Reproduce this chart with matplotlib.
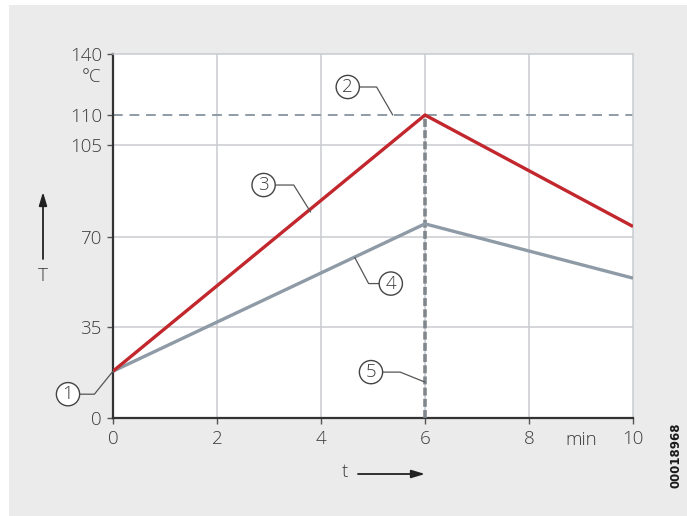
"""Temperature over time for a heating step: product temperature (3) and
core temperature (4) against the 110 degC limit (2), with the 6 min switch-off
marker (5)."""

import numpy as np
import matplotlib
matplotlib.use("Agg")
import matplotlib.pyplot as plt
from matplotlib.patches import Rectangle, FancyArrowPatch

# time axis (min) and the two temperature curves (degC)
time = [0, 6, 10]
temp_surface = [18, 110, 74]
temp_core = [18, 75, 54]

x_ticks = [0, 2, 4, 6, 8, 10]
y_ticks = [0, 35, 70, 105, 110, 140]
limit_temp = 110
switch_time = 6

# the temperature axis is drawn schematically: equal steps up to 105,
# then a stretched 105..110 band and a compressed top
Y_VALS = [0, 35, 70, 105, 110, 140]
Y_POS = [0, 91, 181, 273, 303, 364]


def fwd(v):
    return np.interp(v, Y_VALS, Y_POS)


def inv(p):
    return np.interp(p, Y_POS, Y_VALS)


# callouts: label, target (x, T), circle offset px, leader angle at target
callouts = [
    ("1", (0, 18), (-45, -23), 51),
    ("2", (5.38, 110), (-45, 28), 120),
    ("3", (3.8, 79.5), (-47, 27), 122),
    ("4", (4.65, 62), (36, -26), 118),
    ("5", (6, 13.8), (-54, 10), 158),
]

RED = "#c1272d"
GREY_LINE = "#8e9ba6"
GRID = "#c9cccf"
TEXT = "#3c3c3c"
FONT = "Open Sans"
FS = 13.5

fig = plt.figure(figsize=(6.87, 5.16), dpi=100, facecolor="white")
fig.patches.append(Rectangle((9 / 687, 0), 1, 511 / 516, transform=fig.transFigure,
                             facecolor="#ebebeb", edgecolor="none", zorder=-10))

ax = fig.add_axes([113 / 687, 98 / 516, 520 / 687, 364 / 516])
ax.set_facecolor("white")
ax.set_yscale("function", functions=(fwd, inv))
ax.set_xlim(0, 10)
ax.set_ylim(0, 140)

for xv in x_ticks[1:-1]:
    ax.axvline(xv, color=GRID, lw=1.1, zorder=1)
for yv in [35, 70, 105]:
    ax.axhline(yv, color=GRID, lw=1.1, zorder=1)

ax.axhline(limit_temp, color=GREY_LINE, lw=1.4, dashes=(5, 3.5), zorder=2)
ax.plot([switch_time, switch_time], [0, limit_temp], color="#80878c", lw=2.6,
        dashes=(2.2, 0.9), zorder=3)

ax.plot(time, temp_core, color=GREY_LINE, lw=2.4, zorder=4,
        solid_capstyle="butt")
ax.plot(time, temp_surface, color=RED, lw=2.4, zorder=5,
        solid_capstyle="butt")

for side in ("top", "right"):
    ax.spines[side].set_color(GRID)
    ax.spines[side].set_linewidth(1.1)
for side in ("left", "bottom"):
    ax.spines[side].set_color("#333333")
    ax.spines[side].set_linewidth(1.6)

ax.set_xticks(x_ticks)
ax.set_yticks(y_ticks)
ax.set_xticklabels([str(v) for v in x_ticks], fontsize=FS, color=TEXT,
                   family=FONT, fontweight="light")
ax.set_yticklabels([str(v) for v in y_ticks], fontsize=FS, color=TEXT,
                   family=FONT, fontweight="light")
ax.tick_params(axis="both", length=4, width=1, color="#555555", pad=4)
ax.tick_params(axis="x", pad=5)

# unit labels sitting in the tick label rows
ax.text(-0.22, 128.5, "°C", ha="right", va="center", fontsize=FS,
        color=TEXT, family=FONT, fontweight="light")
ax.text(9.0, -0.035, "min", transform=ax.get_xaxis_transform(), ha="center",
        va="top", fontsize=FS, color=TEXT, family=FONT, fontweight="light")

# axis names with direction arrows
fig.text(43 / 687, 1 - 276 / 516, "T", ha="center", va="center", fontsize=FS,
         color=TEXT, family=FONT, fontweight="light")
fig.add_artist(FancyArrowPatch(
    (43 / 687, 1 - 259 / 516), (43 / 687, 1 - 192 / 516),
    transform=fig.transFigure, arrowstyle="-|>,head_length=8,head_width=2.4",
    color="#222222", lw=1.3, mutation_scale=1, shrinkA=0, shrinkB=0))
fig.text(345 / 687, 1 - 472 / 516, "t", ha="center", va="center", fontsize=FS,
         color=TEXT, family=FONT, fontweight="light")
fig.add_artist(FancyArrowPatch(
    (358 / 687, 1 - 474 / 516), (425 / 687, 1 - 474 / 516),
    transform=fig.transFigure, arrowstyle="-|>,head_length=8,head_width=2.4",
    color="#222222", lw=1.3, mutation_scale=1, shrinkA=0, shrinkB=0))

for label, target, offset, angle in callouts:
    ax.annotate(label, xy=target, xycoords="data", xytext=offset,
                textcoords="offset pixels", ha="center", va="center",
                fontsize=FS, color=TEXT, family=FONT, fontweight="light",
                bbox=dict(boxstyle="circle,pad=0.14", fc="white",
                          ec="#444444", lw=1.0),
                arrowprops=dict(arrowstyle="-", color="#555555", lw=0.9,
                                shrinkA=0, shrinkB=0,
                                connectionstyle=f"angle,angleA=0,angleB={angle},rad=0"),
                zorder=6, annotation_clip=False)

fig.text(676 / 687, 1 - 455 / 516, "00018968", rotation=90, ha="center",
         va="center", fontsize=8.5, fontweight="bold", color="#1a1a1a",
         family="DejaVu Sans")

fig.savefig("out.png", dpi=100, facecolor=fig.get_facecolor())
